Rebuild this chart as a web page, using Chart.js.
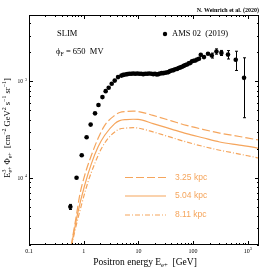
<!DOCTYPE html>
<html><head><meta charset="utf-8">
<script src="https://cdn.jsdelivr.net/npm/chart.js@4/dist/chart.umd.min.js"></script>
<style>html,body{margin:0;padding:0;background:#fff}canvas{display:block}</style>
</head><body>
<canvas id="c" width="274" height="274"></canvas>
<script>
// ---- AMS-02 (2019) positron data, E^3 * flux ----
const amsEnergy = [0.57,0.74,0.92,1.13,1.34,1.61,1.86,2.20,2.52,2.86,3.25,3.69,4.24,4.89,5.27,5.74,6.24,6.79,7.38,8.03,8.74,9.51,10.35,11.25,12.24,13.31,14.49,15.75,17.3,18.7,20.1,21.6,23.2,24.8,26.7,28.6,30.6,32.9,35.3,37.8,40.6,43.6,47.1,50.8,54.6,58.6,62.7,67.3,72.3,77.3,83.2,89.3,95.5,102.6,110,118,128,138,158,187,219,267,329,434,601,853];
const amsFlux = [4.98e-5,1.0e-4,1.71e-4,2.63e-4,3.56e-4,4.66e-4,5.69e-4,6.88e-4,7.93e-4,8.6e-4,9.47e-4,1.02e-3,1.11e-3,1.15e-3,1.17e-3,1.18e-3,1.19e-3,1.20e-3,1.20e-3,1.21e-3,1.20e-3,1.21e-3,1.20e-3,1.20e-3,1.19e-3,1.20e-3,1.20e-3,1.21e-3,1.20e-3,1.19e-3,1.20e-3,1.18e-3,1.19e-3,1.21e-3,1.22e-3,1.22e-3,1.23e-3,1.24e-3,1.25e-3,1.28e-3,1.30e-3,1.31e-3,1.34e-3,1.35e-3,1.38e-3,1.40e-3,1.42e-3,1.45e-3,1.48e-3,1.50e-3,1.54e-3,1.56e-3,1.62e-3,1.64e-3,1.65e-3,1.69e-3,1.72e-3,1.89e-3,1.79e-3,1.94e-3,1.86e-3,2.05e-3,1.98e-3,1.90e-3,1.68e-3,1.09e-3];
const amsError = [0.3e-5,0.3e-5,0.4e-5,0.5e-5,0.6e-5,0.8e-5,1.0e-5,1.1e-5,1.2e-5,1.3e-5,1.4e-5,1.5e-5,1.6e-5,1.6e-5,1.7e-5,1.7e-5,1.7e-5,1.7e-5,1.7e-5,1.8e-5,1.8e-5,1.8e-5,1.8e-5,1.8e-5,1.8e-5,1.9e-5,1.9e-5,2.0e-5,2.0e-5,2.0e-5,2.1e-5,2.1e-5,2.2e-5,2.3e-5,2.4e-5,2.5e-5,2.6e-5,2.7e-5,2.8e-5,3.0e-5,3.1e-5,3.2e-5,3.4e-5,3.5e-5,3.7e-5,3.9e-5,4.0e-5,4.2e-5,4.4e-5,4.6e-5,4.9e-5,5.1e-5,5.4e-5,5.6e-5,5.9e-5,6.1e-5,6.4e-5,7.0e-5,7.5e-5,8.5e-5,1.1e-4,1.3e-4,1.2e-4,1.9e-4,3.8e-4,6.7e-4];

// ---- model curves (SLIM), halo sizes ----
const curve325Energy = [0.55,0.596,0.637,0.736,0.846,1.043,1.383,1.825,2.42,3.69,4.55,6.0,8.0,9.8,18.5,40,75.5,150,306,700,1436,1700];
const curve325Flux   = [1.5e-5,2.0e-5,2.54e-5,4.08e-5,6.59e-5,1.06e-4,1.71e-4,2.55e-4,3.50e-4,4.44e-4,4.76e-4,4.88e-4,4.92e-4,4.88e-4,4.44e-4,3.90e-4,3.50e-4,3.18e-4,2.91e-4,2.68e-4,2.49e-4,2.45e-4];
const curve504Energy = [0.56,0.60,0.665,0.787,1.043,1.383,1.825,2.42,3.69,4.55,6.0,8.0,9.84,18.5,40,75.5,150,306,700,1436,1700];
const curve504Flux   = [1.5e-5,2.0e-5,2.74e-5,4.42e-5,8.36e-5,1.40e-4,2.08e-4,2.76e-4,3.65e-4,3.92e-4,4.02e-4,4.05e-4,4.04e-4,3.65e-4,3.20e-4,2.87e-4,2.60e-4,2.35e-4,2.18e-4,2.04e-4,2.00e-4];
const curve811Energy = [0.57,0.61,0.684,0.908,1.199,1.589,2.11,2.78,4.24,6.0,8.0,9.84,18.5,40,75.5,150,306,700,1436,1700];
const curve811Flux   = [1.5e-5,2.0e-5,2.74e-5,5.19e-5,9.04e-5,1.40e-4,2.01e-4,2.55e-4,3.15e-4,3.28e-4,3.31e-4,3.28e-4,2.99e-4,2.62e-4,2.35e-4,2.12e-4,1.93e-4,1.76e-4,1.62e-4,1.59e-4];
const curveLabels = ['3.25 kpc','5.04 kpc','8.11 kpc'];

// ---- axes ----
const xRange = [0.1, 1600];
const yRange = [2e-5, 4.9e-3];
const xTickValues = [0.1, 1, 10, 100, 1000];
const xTickLabels = [['0.1'], ['1'], ['10'], ['100'], ['10', '3']];
const yTickValues = [1e-4, 1e-3];
const yTickLabels = [['10', '−4'], ['10', '−3']];

const ORANGE = '#f5a55c';
const SERIF = '"Liberation Serif", "DejaVu Serif", serif';
const SANS = '"Liberation Sans", Arimo, sans-serif';

const zip = (xs, ys) => xs.map((x, i) => ({x, y: ys[i]}));

// rich text: parts = [{t}, {sup}, {sub}, {sup, sub}]
function richWidth(ctx, parts, size, fam) {
  let w = 0;
  for (const p of parts) {
    if (p.t !== undefined) { ctx.font = size + 'px ' + fam; w += ctx.measureText(p.t).width; }
    else {
      ctx.font = (size * 0.7) + 'px ' + fam;
      const a = p.sup ? ctx.measureText(p.sup).width : 0;
      const b = p.sub ? ctx.measureText(p.sub).width : 0;
      w += Math.max(a, b);
    }
  }
  return w;
}
function richDraw(ctx, parts, x, y, size, fam, color, align) {
  ctx.save();
  ctx.fillStyle = color;
  ctx.textBaseline = 'middle';
  ctx.textAlign = 'left';
  const w = richWidth(ctx, parts, size, fam);
  let cx = align === 'center' ? x - w / 2 : align === 'right' ? x - w : x;
  for (const p of parts) {
    if (p.t !== undefined) {
      ctx.font = size + 'px ' + fam;
      ctx.fillText(p.t, cx, y);
      cx += ctx.measureText(p.t).width;
    } else {
      ctx.font = (size * 0.7) + 'px ' + fam;
      let a = 0, b = 0;
      if (p.sup) { ctx.fillText(p.sup, cx, y - size * 0.38); a = ctx.measureText(p.sup).width; }
      if (p.sub) { ctx.fillText(p.sub, cx, y + size * 0.3); b = ctx.measureText(p.sub).width; }
      cx += Math.max(a, b);
    }
  }
  ctx.restore();
}

const decor = {
  id: 'decor',
  afterDatasetsDraw(chart) {
    const ctx = chart.ctx;
    const xs = chart.scales.x, ys = chart.scales.y;
    // error bars
    ctx.save();
    ctx.strokeStyle = '#000';
    ctx.lineWidth = 1;
    ctx.beginPath();
    amsEnergy.forEach((e, i) => {
      const px = Math.round(xs.getPixelForValue(e)) + 0.5;
      const y1 = ys.getPixelForValue(amsFlux[i] + amsError[i]);
      const y2 = ys.getPixelForValue(Math.max(amsFlux[i] - amsError[i], 1e-9));
      if (Math.abs(y2 - y1) > 4.5) {
        ctx.moveTo(px, y1); ctx.lineTo(px, y2);
        ctx.moveTo(px - 1.5, y1); ctx.lineTo(px + 1.5, y1);
        ctx.moveTo(px - 1.5, y2); ctx.lineTo(px + 1.5, y2);
      }
    });
    ctx.stroke();
    ctx.restore();
  },
  afterDraw(chart) {
    const ctx = chart.ctx;
    const xs = chart.scales.x, ys = chart.scales.y;
    const a = chart.chartArea;
    ctx.save();
    ctx.strokeStyle = '#000';
    ctx.lineWidth = 1;
    // frame
    ctx.strokeRect(a.left + 0.5, a.top + 0.5, a.right - a.left - 1, a.bottom - a.top - 1);
    // ticks
    ctx.beginPath();
    for (let d = -1; d <= 3; d++) {
      for (let m = 1; m <= 9; m++) {
        const v = m * Math.pow(10, d);
        if (v < xRange[0] || v > xRange[1]) continue;
        const px = Math.round(xs.getPixelForValue(v)) + 0.5;
        const L = m === 1 ? 4 : 2;
        ctx.moveTo(px, a.bottom); ctx.lineTo(px, a.bottom - L);
        ctx.moveTo(px, a.top); ctx.lineTo(px, a.top + L);
      }
    }
    for (let d = -5; d <= -3; d++) {
      for (let m = 1; m <= 9; m++) {
        const v = m * Math.pow(10, d);
        if (v < yRange[0] || v > yRange[1]) continue;
        const py = Math.round(ys.getPixelForValue(v)) + 0.5;
        const L = m === 1 ? 4 : 2;
        ctx.moveTo(a.left, py); ctx.lineTo(a.left + L, py);
        ctx.moveTo(a.right, py); ctx.lineTo(a.right - L, py);
      }
    }
    ctx.stroke();
    ctx.restore();

    // tick labels
    xTickValues.forEach((v, i) => {
      const lab = xTickLabels[i];
      const parts = [{t: lab[0]}];
      if (lab[1]) parts.push({sup: lab[1]});
      richDraw(ctx, parts, xs.getPixelForValue(v), 251, 6, SERIF, '#000', 'center');
    });
    yTickValues.forEach((v, i) => {
      const lab = yTickLabels[i];
      richDraw(ctx, [{t: lab[0]}, {sup: lab[1]}], 27, ys.getPixelForValue(v) + 0.5, 5.5, SERIF, '#000', 'right');
    });

    // axis titles
    richDraw(ctx, [{t: 'Positron energy E'}, {sub: 'e+'}, {t: '  [GeV]'}], 145, 262, 9.5, SERIF, '#000', 'center');
    ctx.save();
    ctx.translate(8, 128);
    ctx.rotate(-Math.PI / 2);
    richDraw(ctx, [{t: 'E'}, {sup: '3', sub: 'e+'}, {t: ' Φ'}, {sub: 'e+'}, {t: '  [cm'}, {sup: '−2'}, {t: ' GeV'}, {sup: '2'}, {t: ' s'}, {sup: '−1'}, {t: ' sr'}, {sup: '−1'}, {t: ']'}], 0, 0, 8.5, SERIF, '#000', 'center');
    ctx.restore();

    // annotations
    ctx.save();
    ctx.font = 'bold 6px ' + SERIF;
    ctx.fillStyle = '#000';
    ctx.textAlign = 'right';
    ctx.textBaseline = 'middle';
    ctx.fillText('N. Weinrich et al. (2020)', 259, 10);
    ctx.restore();
    richDraw(ctx, [{t: 'SLIM'}], 57, 34, 8.5, SERIF, '#000', 'left');
    richDraw(ctx, [{t: 'ϕ'}, {sub: 'F'}, {t: ' = 650  MV'}], 56, 52, 8.5, SERIF, '#000', 'left');
    // AMS legend
    ctx.save();
    ctx.fillStyle = '#000';
    ctx.beginPath(); ctx.arc(165, 34, 2.2, 0, Math.PI * 2); ctx.fill();
    ctx.restore();
    richDraw(ctx, [{t: 'AMS 02  (2019)'}], 172, 34, 8.5, SERIF, '#000', 'left');

    // curve legend
    const dashes = [[8, 3], [], [5, 2, 1, 2]];
    const ly = [177.5, 196, 215];
    ctx.save();
    ctx.strokeStyle = ORANGE;
    ctx.lineWidth = 1.2;
    for (let i = 0; i < 3; i++) {
      ctx.setLineDash(dashes[i]);
      ctx.beginPath(); ctx.moveTo(125, ly[i]); ctx.lineTo(166, ly[i]); ctx.stroke();
    }
    ctx.restore();
    for (let i = 0; i < 3; i++) richDraw(ctx, [{t: curveLabels[i]}], 175, ly[i], 8.5, SANS, ORANGE, 'left');
  }
};

new Chart(document.getElementById('c').getContext('2d'), {
  type: 'scatter',
  data: {
    datasets: [
      {label: curveLabels[0], data: zip(curve325Energy, curve325Flux), showLine: true, borderColor: ORANGE, borderWidth: 1.2, borderDash: [8, 3], pointRadius: 0, cubicInterpolationMode: 'monotone', order: 3},
      {label: curveLabels[1], data: zip(curve504Energy, curve504Flux), showLine: true, borderColor: ORANGE, borderWidth: 1.2, pointRadius: 0, cubicInterpolationMode: 'monotone', order: 3},
      {label: curveLabels[2], data: zip(curve811Energy, curve811Flux), showLine: true, borderColor: ORANGE, borderWidth: 1.2, borderDash: [5, 2, 1, 2], pointRadius: 0, cubicInterpolationMode: 'monotone', order: 3},
      {label: 'AMS 02 (2019)', data: zip(amsEnergy, amsFlux), showLine: false, pointRadius: 2.3, pointBackgroundColor: '#000', pointBorderWidth: 0, borderColor: '#000', order: 1}
    ]
  },
  options: {
    responsive: false, animation: false, devicePixelRatio: 1,
    layout: {padding: {left: 0, top: 15, right: 15, bottom: 0}},
    plugins: {legend: {display: false}, tooltip: {enabled: false}},
    scales: {
      x: {type: 'logarithmic', min: xRange[0], max: xRange[1], grid: {display: false}, border: {display: false}, ticks: {display: false}, afterFit(s) { s.height = 29; }},
      y: {type: 'logarithmic', min: yRange[0], max: yRange[1], grid: {display: false}, border: {display: false}, ticks: {display: false}, afterFit(s) { s.width = 29; }}
    }
  },
  plugins: [decor]
});
</script>
</body></html>
